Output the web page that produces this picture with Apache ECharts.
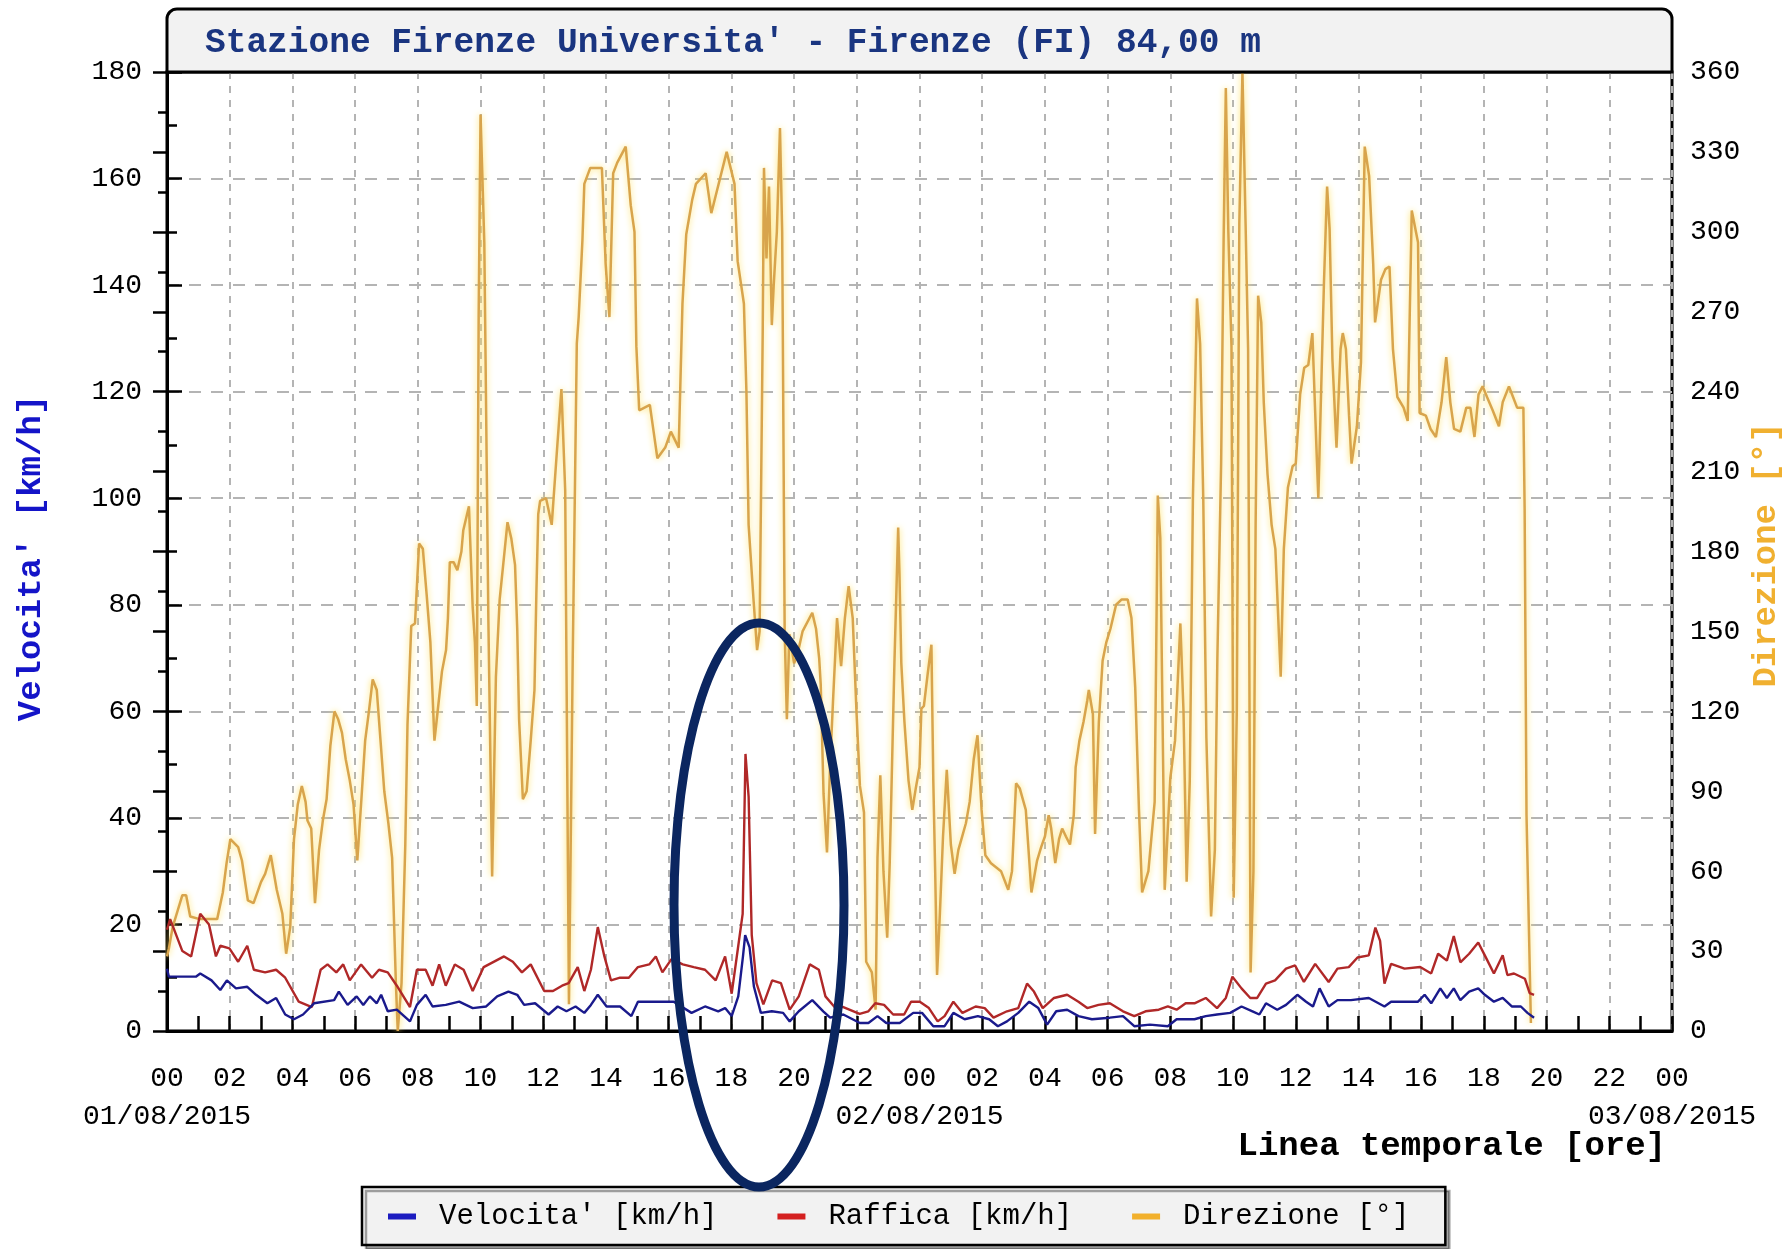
<!DOCTYPE html>
<html><head><meta charset="utf-8">
<script src="https://cdn.jsdelivr.net/npm/echarts@6/dist/echarts.min.js"></script>
<style>html,body{margin:0;padding:0;background:#fff}#c{width:1787px;height:1249px}</style>
</head><body><div id="c"></div>
<script>
const titleText = "Stazione Firenze Universita' - Firenze (FI) 84,00 m";
const dayLabels = ['01/08/2015', '02/08/2015', '03/08/2015'];
const seriesNames = ["Velocita' [km/h]", 'Raffica [km/h]', 'Direzione [°]'];

// Velocita' [km/h]  (hours since 01/08 00:00)
const velH = [0,0.06,0.92,1.06,1.42,1.7,1.91,2.2,2.56,2.84,3.2,3.48,3.77,4.05,4.34,4.69,5.33,5.48,5.76,6.05,6.26,6.47,6.69,6.83,7.04,7.33,7.75,7.97,8.25,8.47,8.89,9.32,9.75,10.18,10.53,10.89,11.17,11.39,11.74,12.17,12.46,12.74,13.03,13.31,13.52,13.74,14.02,14.45,14.81,15.02,16.16,16.73,17.16,17.58,17.8,18.01,18.22,18.37,18.44,18.58,18.72,18.94,19.29,19.65,19.86,20.15,20.58,20.93,21.15,21.57,22.1,22.37,22.66,22.94,23.37,23.8,24.08,24.44,24.8,25.08,25.44,25.86,26.22,26.5,26.79,27.15,27.5,27.79,28.07,28.36,28.71,29.07,29.5,30.07,30.49,30.85,31.35,31.92,32.2,32.77,33.13,33.49,33.91,34.27,34.62,34.84,35.05,35.41,35.69,36.05,36.33,36.55,36.76,37.05,37.33,37.76,38.33,38.83,39.04,39.9,40.11,40.32,40.61,40.82,41.04,41.25,41.53,41.82,42.03,42.32,42.6,42.89,43.18,43.39,43.6];
const velV = [11.7,10.2,10.2,10.8,9.5,7.7,9.5,8.0,8.3,6.8,5.2,6.2,3.1,2.2,3.1,5.2,5.8,7.4,4.9,6.5,4.9,6.5,5.2,6.8,3.7,4.0,1.8,4.9,6.8,4.6,4.9,5.5,4.3,4.6,6.5,7.4,6.8,4.9,5.2,3.1,4.6,3.7,4.6,3.4,4.9,6.8,4.6,4.6,2.8,5.5,5.5,3.4,4.6,3.7,4.3,2.8,6.5,14,18,15.7,8.3,3.4,3.7,3.4,1.8,3.7,5.8,3.7,2.5,3.1,1.5,1.5,2.8,1.5,1.5,3.4,3.4,0.9,0.9,3.4,2.2,2.8,2.2,0.9,1.8,3.4,5.5,4.3,1.2,3.7,4.0,2.8,2.2,2.5,2.8,0.9,1.2,0.9,2.2,2.2,2.8,3.1,3.4,4.6,3.7,3.1,5.2,4.0,4.9,6.8,5.5,4.6,8.0,4.6,5.8,5.8,6.2,4.6,5.5,5.5,6.8,5.2,8.0,6.2,8.0,5.8,7.4,8.0,6.8,5.5,6.2,4.6,4.6,3.4,2.5];

// Raffica [km/h]
const rafH = [0,0.1,0.49,0.77,1.06,1.34,1.56,1.7,1.99,2.27,2.56,2.77,3.13,3.48,3.77,4.2,4.62,4.9,5.12,5.4,5.62,5.83,6.19,6.54,6.76,7.04,7.33,7.75,7.97,8.25,8.47,8.68,8.89,9.18,9.46,9.75,10.1,10.75,11.03,11.32,11.6,12.03,12.31,12.6,12.81,13.1,13.31,13.52,13.74,13.95,14.16,14.45,14.73,15.02,15.38,15.59,15.8,16.09,16.45,16.8,17.16,17.5,17.8,18.01,18.22,18.36,18.45,18.55,18.65,18.8,19.02,19.3,19.58,19.86,20.15,20.5,20.79,21.0,21.29,21.57,22.09,22.37,22.59,22.87,23.16,23.51,23.73,24.01,24.3,24.58,24.8,25.08,25.37,25.79,26.08,26.36,26.79,27.15,27.43,27.65,27.93,28.29,28.71,29.07,29.35,29.71,30.07,30.49,30.85,31.21,31.63,31.92,32.2,32.49,32.77,33.13,33.49,33.77,33.98,34.27,34.55,34.77,35.05,35.34,35.69,35.98,36.26,36.62,37.05,37.33,37.69,37.97,38.33,38.54,38.69,38.83,39.04,39.47,39.97,40.32,40.54,40.82,41.04,41.25,41.53,41.82,42.03,42.32,42.6,42.75,42.96,43.31,43.46,43.6];
const rafV = [19,21,15,14,22,20,14,16,15.5,13,16,11.5,11,11.5,10,5.5,4.5,11.5,12.5,11,12.5,9.5,12.5,10,11.5,11,8.5,4.5,11.5,11.5,8.5,12.5,8.5,12.5,11.5,7.5,12,14,13,11,12.5,7.5,7.5,8.5,9,12,7.5,11.5,19.5,14,9.5,10,10,12,12.5,14,11,13.5,12.5,12,11.5,9.5,14,7,16,22,52,44,18,9,5,9.5,9,4,6.5,12.5,11.5,6.5,4.5,4.5,3.2,3.7,5.2,4.9,3.1,3.1,5.5,5.5,4.3,1.8,2.8,5.5,3.4,4.6,4.3,2.5,3.7,4.3,8.9,7.4,4.3,6.2,6.8,5.5,4.3,4.9,5.2,3.7,2.8,3.7,4.0,4.6,4.0,5.2,5.2,6.2,4.3,6.2,10.2,8.0,6.2,6.2,8.9,9.5,11.7,12.3,9.2,12.6,9.2,11.7,12,13.8,14.2,19.4,16.9,8.9,12.6,11.7,12,10.8,14.5,13.2,17.8,12.9,14.5,16.6,14.2,10.8,14.2,10.5,10.8,9.8,7.1,6.8];

// Direzione [°]
const dirH = [0,0.06,0.18,0.49,0.61,0.74,1.04,1.6,1.78,1.9,2.02,2.27,2.39,2.58,2.76,3.0,3.13,3.31,3.5,3.68,3.8,3.93,4.05,4.17,4.3,4.42,4.48,4.6,4.72,4.85,4.97,5.09,5.21,5.34,5.46,5.58,5.7,5.83,5.95,6.07,6.2,6.32,6.44,6.56,6.69,6.81,6.93,7.06,7.18,7.3,7.36,7.48,7.6,7.67,7.79,7.91,8.04,8.16,8.28,8.4,8.53,8.65,8.77,8.9,8.96,9.02,9.14,9.26,9.39,9.45,9.57,9.63,9.75,9.82,9.88,9.94,10.0,10.12,10.25,10.37,10.49,10.61,10.74,10.86,10.98,11.1,11.17,11.23,11.35,11.47,11.6,11.72,11.78,11.84,11.9,12.09,12.27,12.45,12.58,12.7,12.82,12.94,13.07,13.13,13.25,13.31,13.5,13.87,13.99,14.11,14.23,14.36,14.63,14.79,14.91,14.97,15.06,15.4,15.52,15.64,15.89,16.07,16.32,16.44,16.56,16.75,16.87,17.18,17.36,17.85,18.1,18.2,18.4,18.48,18.55,18.7,18.82,18.9,19.0,19.04,19.12,19.2,19.29,19.35,19.45,19.55,19.62,19.7,19.77,19.85,20.0,20.1,20.27,20.58,20.7,20.8,20.85,20.94,21.05,21.15,21.25,21.37,21.5,21.62,21.74,21.87,21.99,22.1,22.23,22.3,22.48,22.6,22.66,22.75,22.85,22.97,23.05,23.2,23.32,23.36,23.42,23.52,23.65,23.77,23.88,24.0,24.06,24.14,24.26,24.38,24.44,24.5,24.56,24.65,24.75,24.87,25.0,25.12,25.24,25.36,25.48,25.6,25.73,25.85,25.98,26.1,26.28,26.6,26.83,26.95,27.08,27.2,27.39,27.57,27.75,27.88,28.0,28.12,28.2,28.33,28.45,28.55,28.67,28.8,28.92,28.98,29.1,29.23,29.35,29.4,29.53,29.6,29.72,29.84,29.96,30.09,30.27,30.45,30.64,30.76,30.88,31.0,31.1,31.3,31.5,31.6,31.68,31.82,32.0,32.15,32.32,32.42,32.52,32.62,32.72,32.85,32.95,33.05,33.15,33.3,33.42,33.5,33.62,33.7,33.77,33.85,33.95,34.02,34.12,34.2,34.3,34.4,34.48,34.56,34.65,34.72,34.8,34.9,34.98,35.1,35.23,35.35,35.52,35.62,35.75,35.9,36.0,36.14,36.27,36.4,36.53,36.66,36.72,36.9,37.0,37.08,37.17,37.3,37.43,37.5,37.6,37.7,37.78,37.95,38.08,38.2,38.34,38.47,38.53,38.72,38.86,38.99,39.1,39.24,39.44,39.57,39.7,39.9,39.95,40.15,40.3,40.47,40.65,40.8,40.93,41.05,41.25,41.44,41.57,41.7,41.83,41.96,42.1,42.28,42.48,42.6,42.8,42.93,43.06,43.26,43.3,43.36,43.5];
const dirV = [28,31,39,51,51,43,42,42,52,63,72,69,64,49,48,56,59,66,53,44,29,39,72,85,92,86,79,76,48,68,79,87,107,120,117,112,102,94,85,64,87,109,120,132,128,109,90,78,65,18,0,18,70,115,152,153,183,181,164,146,109,122,135,143,155,176,176,173,180,188,194,197,159,146,122,268,344,296,154,58,133,162,177,191,185,175,151,117,87,90,109,128,164,194,199,200,190,220,241,203,10,140,258,268,297,318,324,324,288,268,322,326,332,310,300,257,233,235,225,215,219,225,219,273,299,312,318,322,307,330,318,289,273,240,190,163,143,150,263,324,290,317,265,280,300,339,300,150,117,149,138,141,150,157,151,140,130,89,67,100,126,155,137,155,167,155,120,92,82,26,22,8,65,96,60,35,63,138,189,172,138,116,94,83,91,99,121,122,134,145,94,60,21,44,73,98,70,59,68,73,78,86,102,111,83,66,63,60,53,60,93,91,83,52,64,69,73,81,76,63,72,76,73,70,81,99,109,116,124,128,119,74,116,139,146,151,160,162,162,155,129,83,52,60,86,201,185,53,95,109,153,120,56,94,200,275,258,200,110,43,68,140,213,297,354,300,257,50,120,303,360,303,256,22,60,190,276,266,236,209,190,181,133,181,204,212,213,239,249,250,262,219,200,281,317,301,252,219,256,262,256,231,213,227,251,332,321,288,266,282,286,287,256,238,234,229,308,296,232,231,226,223,236,253,236,226,225,234,234,223,239,242,238,233,227,236,242,238,234,234,196,81,3];

const FONT = "'Liberation Mono', 'DejaVu Sans Mono', monospace";
const pairs = (h, v) => h.map((x, i) => [x, v[i]]);

const chart = echarts.init(document.getElementById('c'), null, {renderer: 'canvas'});
chart.setOption({
  animation: false,
  backgroundColor: '#fff',
  textStyle: {fontFamily: FONT},
  grid: {left: 167, top: 72, width: 1505, height: 959, show: true, borderColor: '#000', borderWidth: 3,
         backgroundColor: '#fff', containLabel: false, outerBoundsMode: 'none'},
  legend: {
    data: seriesNames,
    left: 362, top: 1187,
    padding: [15, 36, 14, 26],
    icon: 'rect', itemWidth: 28, itemHeight: 6, itemGap: 60,
    backgroundColor: '#f2f2f2', borderColor: '#000', borderWidth: 2.5, borderRadius: 0,
    shadowColor: 'rgba(0,0,0,0.35)', shadowOffsetX: 4, shadowOffsetY: 4, shadowBlur: 0,
    textStyle: {fontFamily: FONT, fontSize: 29, color: '#000', padding: [0, 0, 0, 18]},
    selectedMode: false
  },
  xAxis: [
    {
      type: 'value', min: 0, max: 48, interval: 2, position: 'bottom',
      axisLine: {show: true, onZero: false, lineStyle: {color: '#000', width: 3}},
      axisTick: {show: true, inside: true, length: 15, lineStyle: {color: '#000', width: 2.5}},
      minorTick: {show: true, splitNumber: 2, length: 15, lineStyle: {color: '#000', width: 2.5}},
      splitLine: {show: true, lineStyle: {color: '#b4b4b4', width: 2, type: [7, 7]}},
      axisLabel: {
        margin: 34, fontFamily: FONT, fontSize: 28, color: '#000',
        showMinLabel: true, showMaxLabel: true,
        formatter: function (v) {
          const hr = Math.round(v) % 24;
          return (hr < 10 ? '0' : '') + hr;
        }
      }
    },
    {
      type: 'value', min: 0, max: 48, interval: 24, position: 'bottom', offset: 0,
      axisLine: {show: false}, axisTick: {show: false}, minorTick: {show: false},
      splitLine: {show: false},
      axisLabel: {
        margin: 72, fontFamily: FONT, fontSize: 28, color: '#000',
        showMinLabel: true, showMaxLabel: true,
        formatter: function (v) { return dayLabels[Math.round(v / 24)]; }
      }
    }
  ],
  yAxis: [
    {
      type: 'value', min: 0, max: 180, interval: 20, position: 'left',
      axisLine: {show: true, lineStyle: {color: '#000', width: 3}},
      axisTick: {show: true, inside: true, length: 15, lineStyle: {color: '#000', width: 2.5}},
      minorTick: {show: true, splitNumber: 2, length: 10, lineStyle: {color: '#000', width: 2.5}},
      splitLine: {show: true, lineStyle: {color: '#b4b4b4', width: 2, type: [12, 10]}},
      axisLabel: {margin: 25, fontFamily: FONT, fontSize: 28, color: '#000'}
    },
    {
      type: 'value', min: 0, max: 360, interval: 30, position: 'right',
      axisLine: {show: true, lineStyle: {color: '#000', width: 3}},
      axisTick: {show: true, inside: true, length: 14, lineStyle: {color: '#000', width: 2.5}},
      minorTick: {show: true, splitNumber: 2, length: 9, lineStyle: {color: '#000', width: 2.5}},
      splitLine: {show: false},
      axisLabel: {margin: 18, fontFamily: FONT, fontSize: 28, color: '#000'}
    }
  ],
  series: [
    {
      name: seriesNames[2], type: 'line', xAxisIndex: 0, yAxisIndex: 1, data: pairs(dirH, dirV),
      symbol: 'none', z: 2,
      itemStyle: {color: '#f2b02c'},
      lineStyle: {color: '#d8a44c', width: 2.5, shadowColor: 'rgba(255,225,100,1)', shadowBlur: 6}
    },
    {
      name: seriesNames[1], type: 'line', xAxisIndex: 0, yAxisIndex: 0, data: pairs(rafH, rafV),
      symbol: 'none', z: 3,
      itemStyle: {color: '#d42020'},
      lineStyle: {color: '#b02828', width: 2.4}
    },
    {
      name: seriesNames[0], type: 'line', xAxisIndex: 0, yAxisIndex: 0, data: pairs(velH, velV),
      symbol: 'none', z: 4,
      itemStyle: {color: '#1c1cc0'},
      lineStyle: {color: '#1a1a8c', width: 2.4}
    }
  ],
  graphic: [
    {type: 'rect', z: 10, shape: {x: 167, y: 9, width: 1505, height: 63, r: [10, 10, 0, 0]},
     style: {fill: '#f2f2f2', stroke: '#000', lineWidth: 3}},
    {type: 'text', z: 11, x: 205, y: 43,
     style: {text: titleText, fontFamily: FONT, fontWeight: 'bold', fontSize: 34.5, fill: '#1a3580',
             verticalAlign: 'middle', align: 'left'}},
    {type: 'text', z: 11, x: 31, y: 558, rotation: Math.PI / 2,
     style: {text: "Velocita' [km/h]", fontFamily: FONT, fontWeight: 'bold', fontSize: 34, fill: '#1414c8',
             align: 'center', verticalAlign: 'middle'}},
    {type: 'text', z: 11, x: 1766, y: 555, rotation: Math.PI / 2,
     style: {text: 'Direzione [°]', fontFamily: FONT, fontWeight: 'bold', fontSize: 34, fill: '#f0b030',
             align: 'center', verticalAlign: 'middle'}},
    {type: 'text', z: 11, x: 1666, y: 1146,
     style: {text: 'Linea temporale [ore]', fontFamily: FONT, fontWeight: 'bold', fontSize: 34, fill: '#000',
             align: 'right', verticalAlign: 'middle'}},
    {type: 'ellipse', z: 100, shape: {cx: 759, cy: 905, rx: 85, ry: 282},
     style: {fill: 'none', stroke: '#0b2660', lineWidth: 9}}
  ]
});
</script>
</body></html>
